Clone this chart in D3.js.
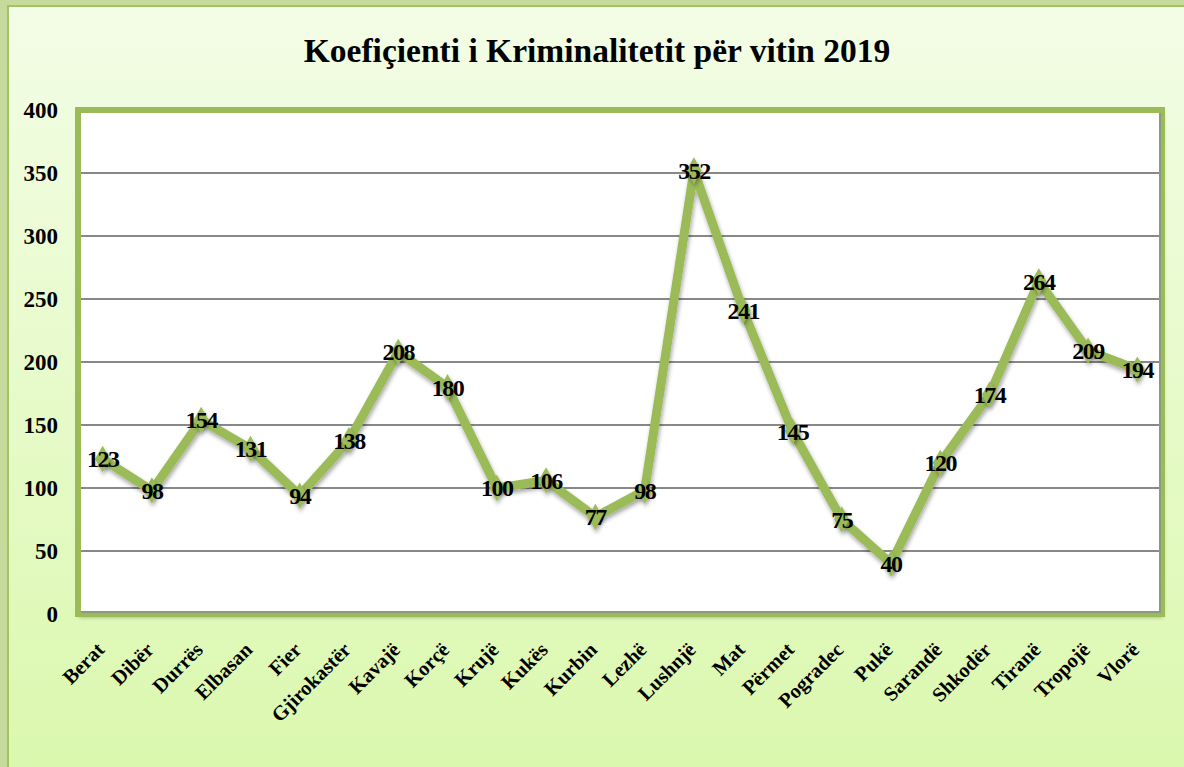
<!DOCTYPE html>
<html>
<head>
<meta charset="utf-8">
<script src="https://cdn.jsdelivr.net/npm/d3@7"></script>
<style>
  body { margin: 0; padding: 0; background: #c6da9c; }
  svg { display: block; font-family: "Liberation Serif", "Times New Roman", serif; }
</style>
</head>
<body>
<div id="chart"></div>
<script>

var qytetet = ["Berat", "Dibër", "Durrës", "Elbasan", "Fier", "Gjirokastër", "Kavajë", "Korçë", "Krujë", "Kukës", "Kurbin", "Lezhë", "Lushnjë", "Mat", "Përmet", "Pogradec", "Pukë", "Sarandë", "Shkodër", "Tiranë", "Tropojë", "Vlorë"];
var koeficienti = [123, 98, 154, 131, 94, 138, 208, 180, 100, 106, 77, 98, 352, 241, 145, 75, 40, 120, 174, 264, 209, 194];
var yTicks = [0, 50, 100, 150, 200, 250, 300, 350, 400];
var titulli = "Koefiçienti i Kriminalitetit për vitin 2019";

var width = 1184;
var height = 767;
var margin = {top: 110, right: 22, bottom: 153, left: 78};

var dataset = qytetet.map(function(d, i) { return {qyteti: d, vlera: koeficienti[i]}; });

var svg = d3.select("#chart")
  .append("svg")
  .attr("width", width)
  .attr("height", height);

var defs = svg.append("defs");
var grad = defs.append("linearGradient")
  .attr("id", "bg")
  .attr("x1", 0).attr("y1", 0).attr("x2", 0).attr("y2", 1);
grad.append("stop").attr("offset", "0%").attr("stop-color", "#f3fde6");
grad.append("stop").attr("offset", "100%").attr("stop-color", "#dbf8ae");

var shadow = defs.append("filter").attr("id", "hije")
  .attr("x", "-50%").attr("y", "-50%").attr("width", "200%").attr("height", "200%");
shadow.append("feDropShadow")
  .attr("dx", 1).attr("dy", 3).attr("stdDeviation", 2)
  .attr("flood-color", "#000").attr("flood-opacity", 0.35);

// sfondi
svg.append("rect")
  .attr("x", 0).attr("y", 0)
  .attr("width", width).attr("height", height)
  .attr("fill", "#c6da9c");
svg.append("rect")
  .attr("x", 8).attr("y", 6)
  .attr("width", width).attr("height", height)
  .attr("fill", "url(#bg)")
  .attr("stroke", "#a3c264")
  .attr("stroke-width", 2);

svg.append("text")
  .attr("x", 597)
  .attr("y", 62)
  .attr("text-anchor", "middle")
  .attr("font-size", 33.5)
  .attr("font-weight", "bold")
  .attr("fill", "#000")
  .text(titulli);

var w = width - margin.left - margin.right;
var h = height - margin.top - margin.bottom;

var g = svg.append("g")
  .attr("transform", "translate(" + margin.left + "," + margin.top + ")");

var xScale = d3.scaleBand()
  .domain(qytetet)
  .range([0, w]);

var yScale = d3.scaleLinear()
  .domain([0, 400])
  .range([h, 0]);

// zona e grafikut
g.append("rect")
  .attr("x", 0).attr("y", 0)
  .attr("width", w).attr("height", h)
  .attr("fill", "#fff")
  .attr("filter", "url(#hije)");

// rrjeti
g.append("g")
  .selectAll("line")
  .data(yTicks.slice(1, -1))
  .enter()
  .append("line")
  .attr("x1", 0).attr("x2", w)
  .attr("y1", function(d) { return yScale(d); })
  .attr("y2", function(d) { return yScale(d); })
  .attr("stroke", "#888")
  .attr("stroke-width", 2);

g.append("rect")
  .attr("x", 0).attr("y", 0)
  .attr("width", w).attr("height", h)
  .attr("fill", "none")
  .attr("stroke", "#9bbb59")
  .attr("stroke-width", 6);

// hija e brendshme poshte dhe djathtas
g.append("path")
  .attr("d", "M3," + (h - 2) + "H" + (w - 2) + "V3")
  .attr("fill", "none")
  .attr("stroke", "#8a9a80")
  .attr("stroke-width", 2);

// boshti y
var yAxis = g.append("g")
  .attr("transform", "translate(-20,0)")
  .call(d3.axisLeft(yScale).tickValues(yTicks).tickSize(0).tickPadding(0));
yAxis.select(".domain").remove();
yAxis.attr("font-family", null);
yAxis.selectAll("text")
  .attr("font-size", 23)
  .attr("font-weight", "bold")
  .attr("fill", "#000");

// boshti x, etiketat te pjerreta
var xAxis = g.append("g")
  .attr("transform", "translate(0," + h + ")");
xAxis.selectAll("text")
  .data(qytetet)
  .enter()
  .append("text")
  .attr("transform", function(d) {
    return "translate(" + (xScale(d) + xScale.bandwidth() / 2 + 3) + ",37) rotate(-45)";
  })
  .attr("text-anchor", "end")
  .attr("font-size", 20.5)
  .attr("font-weight", "bold")
  .attr("fill", "#000")
  .text(function(d) { return d; });

// vija
var line = d3.line()
  .x(function(d) { return xScale(d.qyteti) + xScale.bandwidth() / 2; })
  .y(function(d) { return yScale(d.vlera); });

g.append("path")
  .datum(dataset)
  .attr("d", line)
  .attr("fill", "none")
  .attr("stroke", "#9bbb59")
  .attr("stroke-width", 9)
  .attr("stroke-linejoin", "miter")
  .attr("filter", "url(#hije)");

g.selectAll(".pika")
  .data(dataset)
  .enter()
  .append("path")
  .attr("class", "pika")
  .attr("d", d3.symbol().type(d3.symbolDiamond).size(200))
  .attr("transform", function(d) {
    return "translate(" + (xScale(d.qyteti) + xScale.bandwidth() / 2) + "," + yScale(d.vlera) + ")";
  })
  .attr("fill", "#9bbb59")
  .attr("filter", "url(#hije)");

g.selectAll(".etiketa")
  .data(dataset)
  .enter()
  .append("text")
  .attr("class", "etiketa")
  .attr("x", function(d) { return xScale(d.qyteti) + xScale.bandwidth() / 2; })
  .attr("y", function(d) { return yScale(d.vlera); })
  .attr("dy", "0.35em")
  .attr("text-anchor", "middle")
  .attr("font-size", 24)
  .attr("font-weight", "bold")
  .attr("letter-spacing", -1.5)
  .attr("fill", "#000")
  .text(function(d) { return d.vlera; });

</script>
</body>
</html>
